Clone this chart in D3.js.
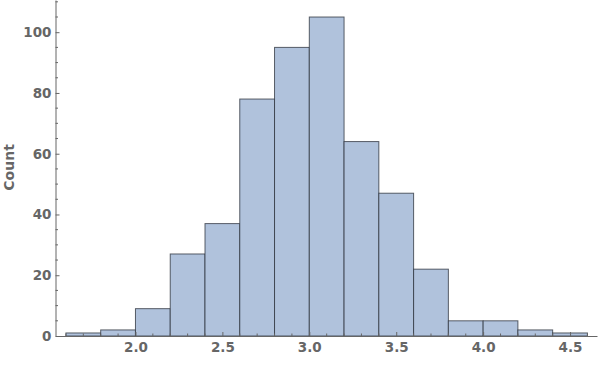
<!DOCTYPE html>
<html>
<head>
<meta charset="utf-8">
<script src="https://cdn.jsdelivr.net/npm/d3@7"></script>
<style>
  body { margin: 0; background: #fff; }
  text { font-family: "DejaVu Sans", sans-serif; }
</style>
</head>
<body>
<div id="wrapper"></div>
<script>
// bin edges and counts (width 0.2)
const binStarts = [1.6, 1.8, 2.0, 2.2, 2.4, 2.6, 2.8, 3.0, 3.2, 3.4, 3.6, 3.8, 4.0, 4.2, 4.4];
const counts = [1, 2, 9, 27, 37, 78, 95, 105, 64, 47, 22, 5, 5, 2, 1];
const binWidth = 0.2;
const xTicks = [2.0, 2.5, 3.0, 3.5, 4.0, 4.5];
const yTicks = [0, 20, 40, 60, 80, 100];

const dataset = binStarts.map((s, i) => ({x0: s, x1: s + binWidth, n: counts[i]}));

const dimensions = {
  width: 600,
  height: 380,
  margin: {top: 0, right: 3, bottom: 44, left: 55.5}
};
dimensions.boundedWidth = dimensions.width - dimensions.margin.left - dimensions.margin.right;
dimensions.boundedHeight = dimensions.height - dimensions.margin.top - dimensions.margin.bottom;

const svg = d3.select("#wrapper").append("svg")
  .attr("width", dimensions.width)
  .attr("height", dimensions.height);

const wrapper = svg.append("g")
  .attr("transform", `translate(${dimensions.margin.left},${dimensions.margin.top})`);

const xScale = d3.scaleLinear()
  .domain([1.54, 4.655])
  .range([0, dimensions.boundedWidth]);

const yScale = d3.scaleLinear()
  .domain([0, 110.6])
  .range([dimensions.boundedHeight, 0]);

const axisColor = "#666";

// bars
wrapper.append("g").selectAll("rect")
  .data(dataset)
  .join("rect")
  .attr("x", d => xScale(d.x0))
  .attr("y", d => yScale(d.n))
  .attr("width", d => xScale(d.x1) - xScale(d.x0))
  .attr("height", d => yScale(0) - yScale(d.n))
  .attr("fill", "#b0c2dc")
  .attr("stroke", "#2a2f38")
  .attr("stroke-opacity", 0.75)
  .attr("stroke-width", 1);

// minor ticks
const xMinor = d3.range(1.6, 4.66, 0.1).map(v => +v.toFixed(1)).filter(v => !xTicks.includes(v));
const yMinor = d3.range(5, 111, 5).filter(v => !yTicks.includes(v));

// x axis
const xAxis = wrapper.append("g")
  .attr("transform", `translate(0,${dimensions.boundedHeight})`)
  .call(d3.axisBottom(xScale).tickValues(xTicks).tickFormat(d3.format(".1f")).tickSizeInner(-4).tickSizeOuter(0).tickPadding(6));
xAxis.select(".domain").attr("stroke", axisColor);
xAxis.selectAll(".tick line").attr("stroke", axisColor);
xAxis.selectAll("text").attr("fill", axisColor).attr("font-size", 13.5).attr("font-weight", "bold");
xAxis.append("g").selectAll("line")
  .data(xMinor)
  .join("line")
  .attr("x1", d => xScale(d)).attr("x2", d => xScale(d))
  .attr("y1", 0).attr("y2", -2.5)
  .attr("stroke", axisColor);

// y axis
const yAxis = wrapper.append("g")
  .call(d3.axisLeft(yScale).tickValues(yTicks).tickSizeInner(-4).tickSizeOuter(0).tickPadding(4));
yAxis.select(".domain").attr("stroke", axisColor);
yAxis.selectAll(".tick line").attr("stroke", axisColor);
yAxis.selectAll("text").attr("fill", axisColor).attr("font-size", 13.5).attr("font-weight", "bold");
yAxis.append("g").selectAll("line")
  .data(yMinor)
  .join("line")
  .attr("y1", d => yScale(d)).attr("y2", d => yScale(d))
  .attr("x1", 0).attr("x2", 2.5)
  .attr("stroke", axisColor);

// axis label
svg.append("text")
  .attr("transform", `translate(14,${dimensions.margin.top + yScale(55.5)}) rotate(-90)`)
  .attr("text-anchor", "middle")
  .attr("fill", axisColor)
  .attr("font-size", 14)
  .attr("font-weight", "bold")
  .text("Count");
</script>
</body>
</html>
